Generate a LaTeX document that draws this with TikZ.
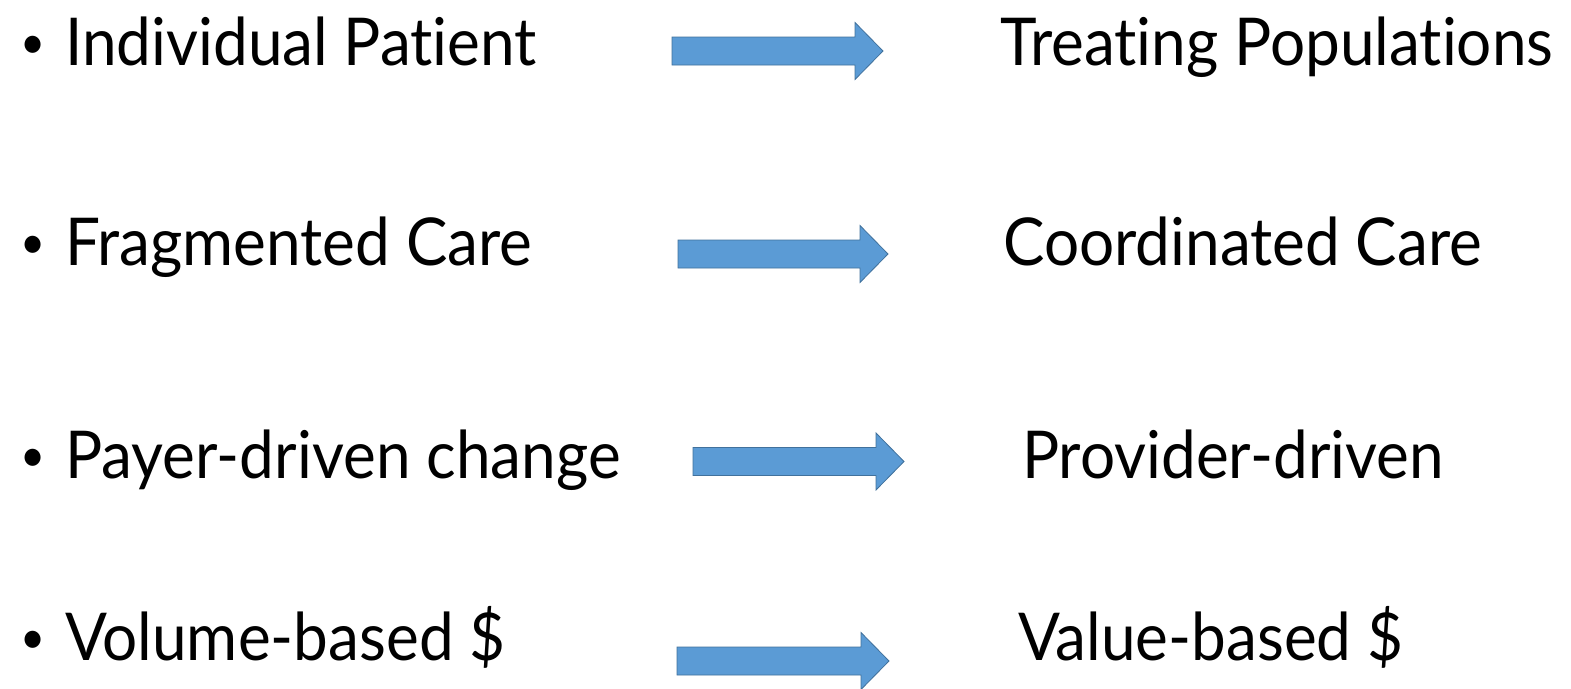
\documentclass[tikz,border=0pt]{standalone}
\usepackage{fontspec}
\setmainfont[Ligatures=NoCommon,FakeStretch=0.94]{Lato}
\begin{document}
\begin{tikzpicture}[x=1pt,y=-1pt,
  label/.style={anchor=base west,inner sep=0pt,font=\fontsize{66}{70}\selectfont},
  dot/.style={anchor=base west,inner sep=0pt,font=\fontsize{46}{50}\selectfont},
  blockarrow/.style={fill=arrowblue,draw=arrowedge,line width=0.8pt,line join=miter}]
\definecolor{arrowblue}{HTML}{5B9BD5}
\definecolor{arrowedge}{HTML}{41719C}
\useasboundingbox (0,0) rectangle (1571,688);
% block arrow: left x, tip x, centre y
\newcommand{\shiftarrow}[3]{%
  \path[blockarrow] (#1,#3-14) -- (#2-28,#3-14) -- (#2-28,#3-28.5) -- (#2,#3)
    -- (#2-28,#3+28.5) -- (#2-28,#3+14) -- (#1,#3+14) -- cycle;}
% left column
\node[dot] (b1) at (20,58) {•};
\node[label] (l1) at (65,65) {Individual Patient};
\node[dot] (b2) at (20,258) {•};
\node[label] (l2) at (65,265) {Fragmented Care};
\node[dot] (b3) at (20,471) {•};
\node[label] (l3) at (65,478) {Payer-driven change};
\node[dot] (b4) at (20,653) {•};
\node[label] (l4) at (65,660) {Volume-based \$};
% right column
\node[label] (r1) at (1000,65) {Treating Populations};
\node[label] (r2) at (1003,265) {Coordinated Care};
\node[label] (r3) at (1022,478) {Provider-driven};
\node[label] (r4) at (1018,660) {Value-based \$};
% arrows
\shiftarrow{672}{883}{51}
\shiftarrow{678}{888}{254}
\shiftarrow{693}{904}{461.5}
\shiftarrow{677}{889}{661}
\end{tikzpicture}
\end{document}
